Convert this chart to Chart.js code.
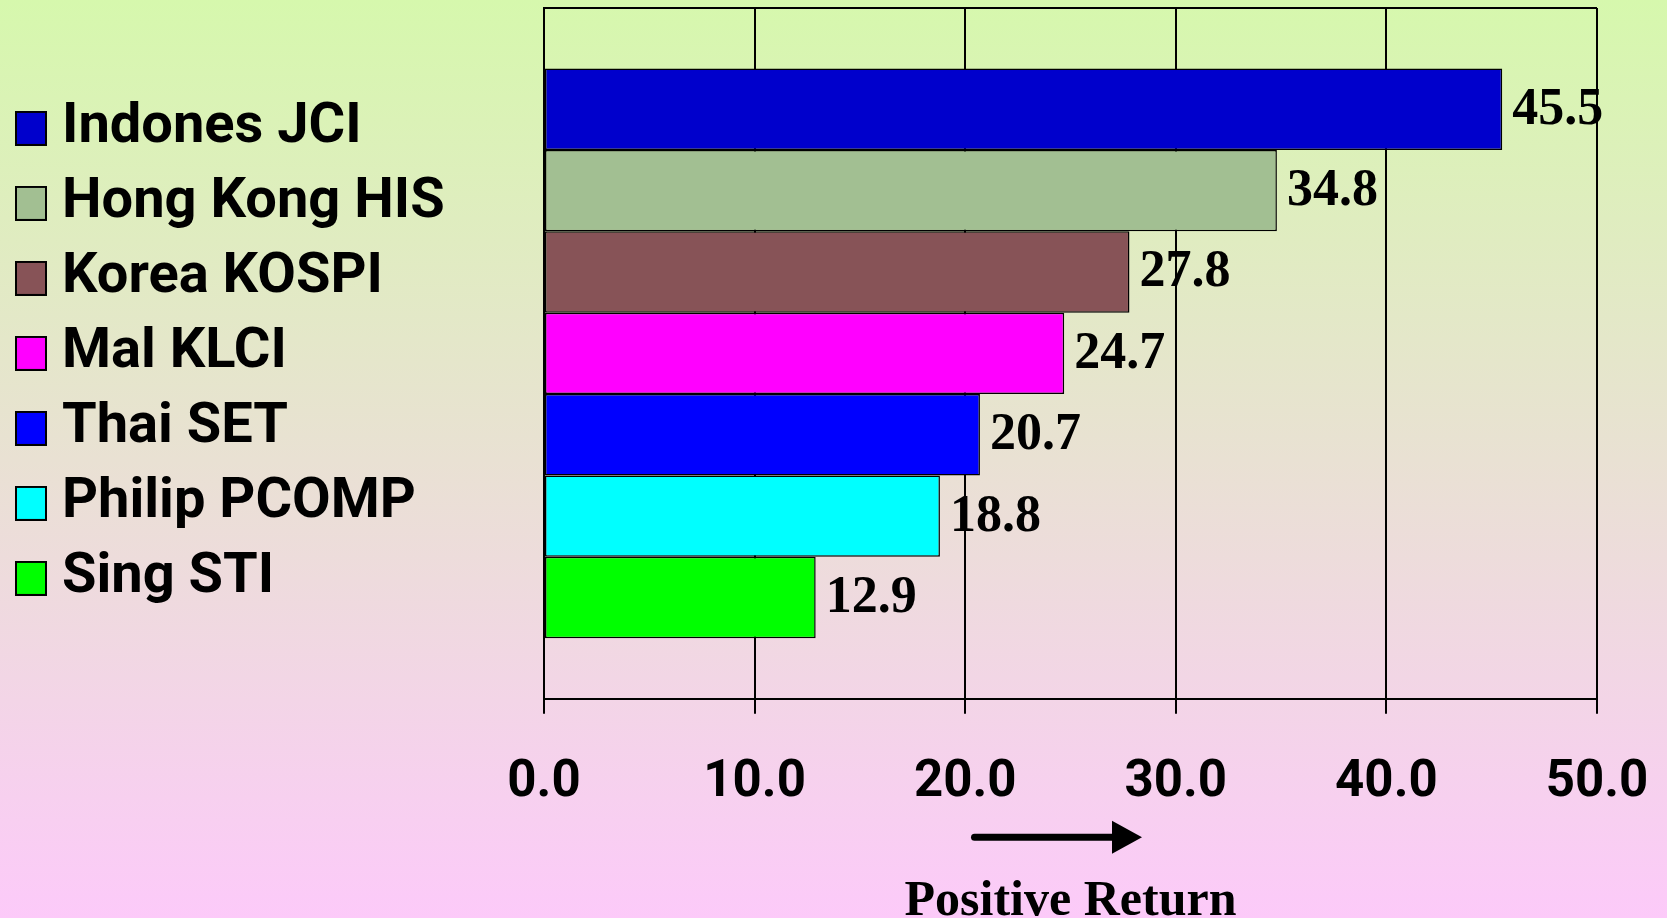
<!DOCTYPE html>
<html>
<head>
<meta charset="utf-8">
<script src="https://cdn.jsdelivr.net/npm/chart.js@4/dist/chart.umd.min.js"></script>
<style>
  html, body { margin: 0; padding: 0; }
  body {
    width: 1667px;
    height: 918px;
    overflow: hidden;
    background: linear-gradient(to bottom, #d6f8ad 0%, #fccaf9 100%);
  }
</style>
</head>
<body>
<canvas id="chart" width="1667" height="918"></canvas>
<script>
// values
const markets = ['Indones JCI', 'Hong Kong HIS', 'Korea KOSPI', 'Mal KLCI', 'Thai SET', 'Philip PCOMP', 'Sing STI'];
const returns = [45.5, 34.8, 27.8, 24.7, 20.7, 18.8, 12.9];
const barColors = ['#0000cc', '#a2bf92', '#875357', '#ff00ff', '#0000ff', '#00ffff', '#00ff00'];
const xTicks = [0, 10, 20, 30, 40, 50];
const axisTitle = 'Positive Return';

const PAD_LEFT = 9;
const PLOT_LEFT = 544;

// legend swatch, a bit taller than wide like the original
function swatch(fill) {
  const c = document.createElement('canvas');
  c.width = 32;
  c.height = 35;
  const g = c.getContext('2d');
  g.fillStyle = '#000';
  g.fillRect(0, 0, 32, 35);
  g.fillStyle = fill;
  g.fillRect(2, 2, 28, 31);
  return c;
}

const valueLabels = {
  id: 'valueLabels',
  afterDatasetsDraw(chart) {
    const ctx = chart.ctx;
    ctx.save();
    ctx.font = 'bold 52px "Liberation Serif"';
    ctx.fillStyle = '#000';
    ctx.textAlign = 'left';
    ctx.textBaseline = 'middle';
    chart.data.datasets.forEach((ds, i) => {
      const bar = chart.getDatasetMeta(i).data[0];
      ctx.fillText(ds.data[0].toFixed(1), bar.x + 10, bar.y + 1);
    });
    ctx.restore();
  }
};

const returnArrow = {
  id: 'returnArrow',
  afterDraw(chart) {
    const { left, right, bottom } = chart.chartArea;
    const cx = (left + right) / 2;
    const y = bottom + 138.5;
    const ctx = chart.ctx;
    ctx.save();
    ctx.strokeStyle = '#000';
    ctx.fillStyle = '#000';
    ctx.lineWidth = 7;
    ctx.lineCap = 'round';
    ctx.beginPath();
    ctx.moveTo(cx - 96, y);
    ctx.lineTo(cx + 44, y);
    ctx.stroke();
    ctx.beginPath();
    ctx.moveTo(cx + 41.5, y - 16.5);
    ctx.lineTo(cx + 71.5, y);
    ctx.lineTo(cx + 41.5, y + 16.5);
    ctx.closePath();
    ctx.fill();
    ctx.restore();
  }
};

const datasets = markets.map((name, i) => ({
  label: name,
  data: [returns[i]],
  backgroundColor: barColors[i],
  borderColor: '#000',
  borderWidth: 1.5,
  borderSkipped: false,
  pointStyle: swatch(barColors[i]),
  categoryPercentage: 0.8246,
  barPercentage: 1
}));

new Chart(document.getElementById('chart'), {
  type: 'bar',
  data: { labels: [''], datasets },
  plugins: [valueLabels, returnArrow],
  options: {
    indexAxis: 'y',
    responsive: false,
    animation: false,
    devicePixelRatio: 1,
    layout: { padding: { left: PAD_LEFT, right: 70, top: 8, bottom: 0 } },
    plugins: {
      tooltip: { enabled: false },
      legend: {
        position: 'left',
        align: 'center',
        fullSize: false,
        maxWidth: 600,
        labels: {
          usePointStyle: true,
          pointStyleWidth: 6,
          padding: 19,
          color: '#000',
          font: { family: 'Roboto', weight: 'bold', size: 56 }
        }
      }
    },
    scales: {
      x: {
        type: 'linear',
        min: 0,
        max: 50,
        afterBuildTicks: (scale) => {
          scale.ticks = xTicks.map(v => ({ value: v }));
        },
        afterFit: (scale) => {
          scale.paddingLeft = 0;
          scale.paddingRight = 0;
        },
        grid: { color: '#000', lineWidth: 2, tickLength: 15, drawTicks: true },
        border: { color: '#000', width: 2 },
        ticks: {
          color: '#000',
          padding: 39,
          maxRotation: 0,
          autoSkip: false,
          font: { family: 'Roboto', weight: 'bold', size: 51 },
          callback: (v) => Number(v).toFixed(1)
        },
        title: {
          display: true,
          text: axisTitle,
          color: '#000',
          font: { family: 'Liberation Serif', weight: 'bold', size: 50 },
          padding: { top: 19, bottom: -14 }
        }
      },
      y: {
        type: 'category',
        grid: { color: '#000', lineWidth: 2, drawTicks: false },
        border: { color: '#000', width: 2 },
        ticks: { display: false },
        afterFit: (scale) => {
          const lg = scale.chart.legend;
          const used = PAD_LEFT + (lg ? lg.width : 0);
          scale.width = Math.max(0, PLOT_LEFT - used);
        }
      }
    }
  }
});
</script>
</body>
</html>
